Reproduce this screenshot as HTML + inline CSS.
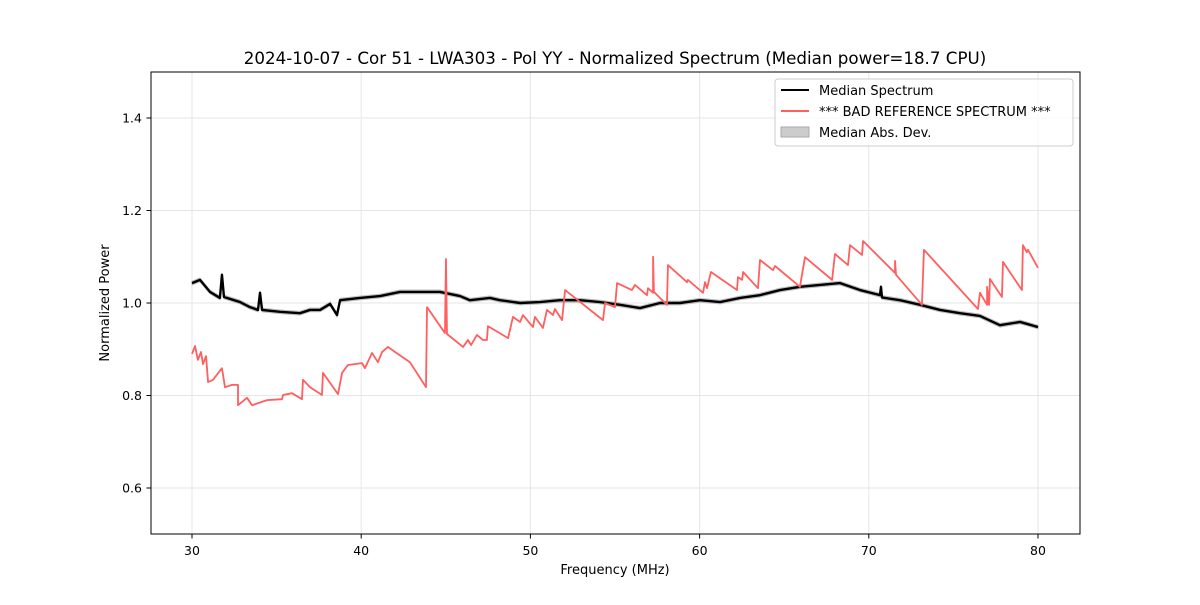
<!DOCTYPE html>
<html><head><meta charset="utf-8"><style>
body{margin:0;background:#fff;font-family:"Liberation Sans","DejaVu Sans",sans-serif}
svg text{font-family:"DejaVu Sans","Liberation Sans",sans-serif}
</style></head><body>
<svg id="chart" width="1200" height="600" xmlns="http://www.w3.org/2000/svg">
<rect width="1200" height="600" fill="#fff"/>
<text x="615" y="64" font-size="16.7" text-anchor="middle">2024-10-07 - Cor 51 - LWA303 - Pol YY - Normalized Spectrum (Median power=18.7 CPU)</text>
<g id="grid"></g><g id="series"></g>
<rect x="151" y="72" width="929" height="462" fill="none" stroke="#000" stroke-width="1"/>
<g id="ticks"></g>
<text x="615" y="574" font-size="13" text-anchor="middle">Frequency (MHz)</text>
<text transform="translate(109,303) rotate(-90)" font-size="13" text-anchor="middle">Normalized Power</text>
<g>
<rect x="775" y="79" width="298" height="67" rx="3" fill="#fff" fill-opacity="0.8" stroke="#ccc"/>
<line x1="781" y1="90" x2="809" y2="90" stroke="#000" stroke-width="2"/>
<text x="819" y="95" font-size="13">Median Spectrum</text>
<line x1="781" y1="111" x2="809" y2="111" stroke="#ff5f5f" stroke-width="2"/>
<text x="819" y="116" font-size="13">*** BAD REFERENCE SPECTRUM ***</text>
<rect x="781" y="127" width="28" height="10" fill="#ccc" stroke="#aaa"/>
<text x="819" y="137" font-size="13">Median Abs. Dev.</text>
</g>
</svg>
<script>
const xTicks=[30,40,50,60,70,80];
const yTicks=[0.6,0.8,1.0,1.2,1.4];
const medFreq=[30.0,30.47,31.06,31.65,31.77,31.89,32.84,33.43,33.90,34.02,34.14,35.20,36.38,36.97,37.57,38.16,38.57,38.75,39.93,41.11,42.29,43.48,44.66,45.84,46.43,47.61,48.20,49.39,50.57,51.75,52.93,54.11,55.30,56.48,57.66,58.84,60.02,61.21,62.39,63.57,64.75,65.93,67.12,68.30,69.48,70.66,70.72,70.78,71.84,73.03,74.21,75.39,76.57,77.75,78.94,80.0];
const medVal=[1.043,1.050,1.024,1.011,1.061,1.013,1.002,0.991,0.985,1.022,0.985,0.981,0.978,0.985,0.985,0.998,0.974,1.006,1.011,1.015,1.024,1.024,1.024,1.015,1.006,1.011,1.006,1.000,1.002,1.006,1.006,1.002,0.996,0.989,1.000,1.000,1.006,1.002,1.011,1.017,1.028,1.035,1.039,1.043,1.028,1.017,1.035,1.012,1.006,0.996,0.985,0.978,0.972,0.952,0.959,0.948];
const refFreq=[30.00,30.18,30.35,30.53,30.65,30.83,30.95,31.24,31.77,31.95,32.36,32.72,32.72,33.25,33.55,34.43,35.32,35.38,35.91,36.50,36.56,36.97,37.68,37.74,38.63,38.87,39.22,40.05,40.22,40.64,40.99,41.23,41.58,42.00,42.88,43.83,43.89,44.95,45.01,45.07,46.02,46.31,46.49,46.84,47.20,47.43,47.49,48.68,48.97,49.39,49.56,50.15,50.27,50.74,50.98,51.34,51.45,51.87,52.05,54.29,54.41,55.00,55.12,56.00,56.18,56.89,56.95,57.25,57.25,57.30,58.07,58.13,59.26,59.31,60.20,60.32,60.44,60.67,62.21,62.27,62.51,62.57,63.45,63.57,64.34,64.46,65.93,66.23,67.83,68.00,68.77,68.89,69.60,69.66,71.55,71.55,71.61,73.14,73.26,76.45,76.57,76.99,76.99,77.11,77.16,77.87,77.93,79.05,79.11,79.34,79.41,80.00];
const refVal=[0.890,0.907,0.877,0.894,0.868,0.885,0.829,0.834,0.859,0.818,0.823,0.823,0.779,0.795,0.779,0.790,0.792,0.801,0.805,0.792,0.834,0.818,0.801,0.849,0.803,0.849,0.866,0.870,0.859,0.892,0.872,0.894,0.905,0.894,0.872,0.818,0.991,0.935,1.095,0.933,0.905,0.920,0.909,0.931,0.920,0.920,0.950,0.924,0.970,0.959,0.974,0.948,0.970,0.946,0.985,0.974,0.987,0.963,1.028,0.963,1.000,0.991,1.043,1.028,1.039,1.017,1.032,1.022,1.100,1.024,0.996,1.082,1.045,1.050,1.022,1.045,1.032,1.067,1.028,1.056,1.050,1.067,1.032,1.093,1.071,1.080,1.035,1.099,1.050,1.106,1.082,1.125,1.104,1.134,1.065,1.091,1.061,0.996,1.115,0.987,1.022,0.996,1.035,0.996,1.052,1.013,1.089,1.028,1.125,1.110,1.115,1.076];
const madWidth=0.004;
const NS='http://www.w3.org/2000/svg';
const X=f=>192+(f-30)*16.92, Y=v=>303-(v-1)*462.5;
function mk(t,a,p){const e=document.createElementNS(NS,t);for(const k in a)e.setAttribute(k,a[k]);p.appendChild(e);return e;}
const grid=document.getElementById('grid'),ticks=document.getElementById('ticks'),ser=document.getElementById('series');
xTicks.forEach(t=>{const x=X(t);
const g=mk('line',{x1:x,x2:x,y1:72,y2:534,stroke:'#e6e6e6'},grid);


const tk=mk('line',{x1:x,x2:x,y1:534,y2:538.5,stroke:'#000'},ticks);


const tx=mk('text',{x:x,y:555,'font-size':12.5,'text-anchor':'middle'},ticks);tx.textContent=t;

});
yTicks.forEach(t=>{const y=Y(t);
const g=mk('line',{x1:151,x2:1080,y1:y,y2:y,stroke:'#e6e6e6'},grid);


const tk=mk('line',{x1:146.5,x2:151,y1:y,y2:y,stroke:'#000'},ticks);


const tx=mk('text',{x:142,y:y+4.5,'font-size':12.5,'text-anchor':'end'},ticks);tx.textContent=t.toFixed(1);

});
let up=medFreq.map((f,i)=>X(f)+','+Y(medVal[i]+madWidth)),dn=medFreq.map((f,i)=>X(f)+','+Y(medVal[i]-madWidth)).reverse();
const band=mk('polygon',{points:up.concat(dn).join(' '),fill:'#ccc',stroke:'#bbb','stroke-width':1},ser);


const med=mk('polyline',{points:medFreq.map((f,i)=>X(f)+','+Y(medVal[i])).join(' '),fill:'none',stroke:'#000','stroke-width':2.4,'stroke-linejoin':'round'},ser);


const ref=mk('polyline',{points:refFreq.map((f,i)=>X(f)+','+Y(refVal[i])).join(' '),fill:'none',stroke:'#ff5f5f','stroke-width':1.8,'stroke-linejoin':'round'},ser);


</script>
</body></html>
